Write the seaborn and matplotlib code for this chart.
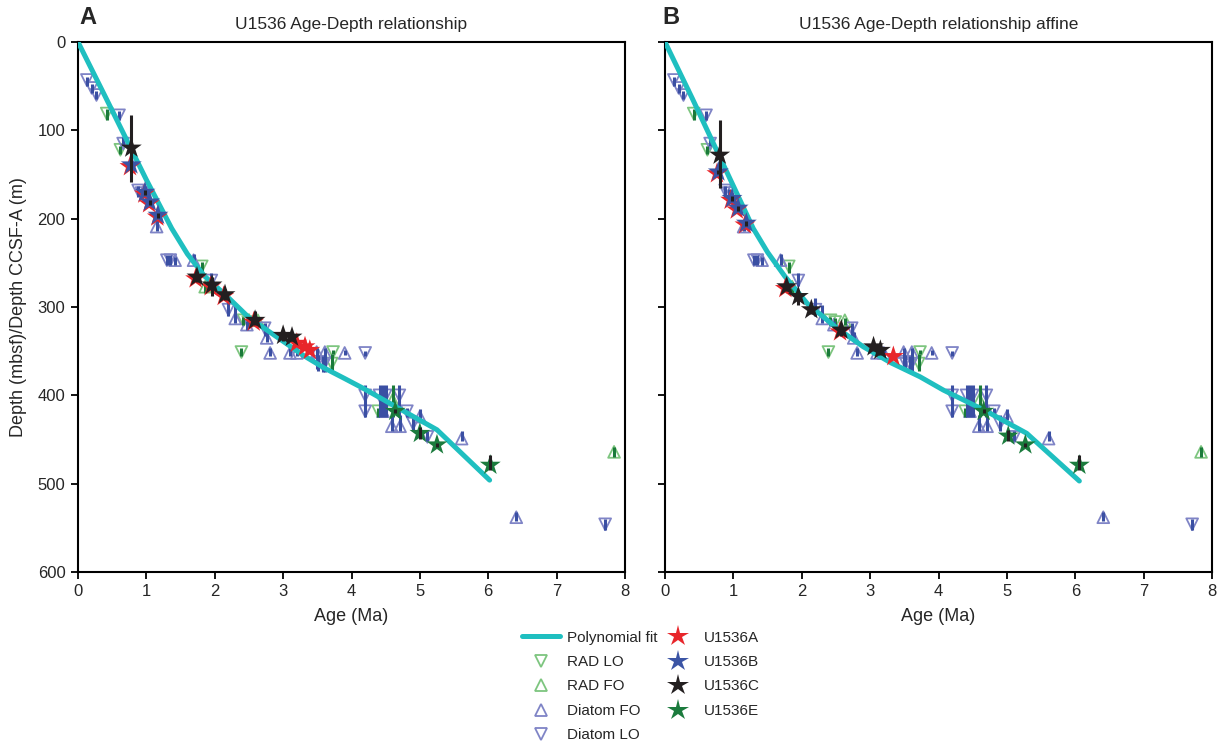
import numpy as np
import matplotlib
matplotlib.use("Agg")
import matplotlib.pyplot as plt
import seaborn as sns
from matplotlib.lines import Line2D

# ---------------- data ----------------
# Polynomial fits (age Ma, depth m)
fit_a_age = [0, 0.40, 1.00, 1.37, 1.60, 1.85, 2.18, 2.50, 2.91, 3.30, 3.60, 3.90, 4.17, 4.56, 5.25, 6.02]
fit_a_depth = [0, 62, 156, 211, 240, 265, 288, 312, 334, 355, 369, 381, 392, 409, 439, 496]
fit_b_age = [0, 0.40, 1.00, 1.29, 1.50, 1.75, 2.08, 2.50, 2.90, 3.30, 3.73, 4.07, 4.70, 5.29, 6.06]
fit_b_depth = [0, 64, 163, 211, 238, 265, 296, 323, 345, 363, 379, 394, 418, 443, 497]

# Radiolarian last occurrences
rad_lo_age = [0.42, 0.62, 1.81, 2.42, 2.49, 2.39, 3.73, 3.71, 4.39]
rad_lo_depth = [81, 122, 254, 315, 317, 351, 351, 364, 418]
rad_lo_top = [76, 118, 249, 311, 312, 346, 349, 353, 414]
rad_lo_bot = [88, 127, 262, 320, 323, 356, 353, 373, 424]

# Radiolarian first occurrences
rad_fo_age = [1.86, 2.63, 4.60, 7.84]
rad_fo_depth = [277, 315, 405, 464]
rad_fo_top = [272, 312, 388, 459]
rad_fo_bot = [284, 320, 425, 470]

# Diatom first occurrences
dia_fo_age = [1.15, 1.42, 1.69, 2.30, 2.47, 2.76, 2.81, 3.10, 3.20, 3.49, 3.61, 3.90,
              4.46, 4.59, 4.71, 5.00, 5.61, 6.41]
dia_fo_depth = [209, 247, 247, 313, 320, 335, 352, 352, 352, 351, 351, 352,
                418, 435, 435, 424, 449, 538]
dia_fo_top = [202, 243, 240, 298, 316, 328, 346, 346, 346, 346, 346, 349,
              388, 422, 422, 416, 440, 532]
dia_fo_bot = [214, 252, 252, 318, 326, 340, 356, 356, 356, 370, 374, 354,
              425, 440, 440, 428, 452, 542]

# Diatom last occurrences
dia_lo_age = [0.13, 0.20, 0.27, 0.60, 0.66, 0.88, 0.93, 1.30, 1.35, 1.95, 2.20, 2.73,
              3.51, 3.59, 4.20, 4.20, 4.41, 4.50, 4.70, 4.81, 4.90, 5.11, 4.20, 7.71]
dia_lo_depth = [43, 52, 60, 83, 115, 168, 171, 247, 247, 270, 303, 324,
                362, 366, 400, 418, 400, 400, 400, 418, 432, 447, 352, 546]
dia_lo_top = [40, 48, 56, 78, 108, 163, 166, 241, 241, 262, 290, 318,
              354, 356, 388, 414, 388, 388, 388, 414, 422, 440, 350, 540]
dia_lo_bot = [50, 58, 65, 88, 118, 176, 178, 252, 252, 276, 310, 333,
              372, 374, 425, 422, 425, 425, 425, 424, 440, 452, 355, 552]

# Paleomagnetic tie points, panel A
a_u1536a_age = [0.76, 0.97, 1.04, 1.16, 1.72, 1.94, 2.13, 2.57, 3.20, 3.32, 3.39]
a_u1536a_depth = [141, 172, 183, 198, 268, 277, 288, 317, 341, 345, 349]
a_u1536b_age = [0.78, 0.98, 1.05, 1.17]
a_u1536b_depth = [139, 170, 181, 196]
a_u1536b_top = [137, 167, 179, 194]
a_u1536b_bot = [141, 173, 184, 199]
a_u1536c_age = [0.78, 1.74, 1.96, 2.15, 2.59, 3.00, 3.13]
a_u1536c_depth = [120, 266, 275, 286, 315, 332, 334]
a_u1536c_top = [83, 262, 266, 280, 305, 328, 330]
a_u1536c_bot = [158, 272, 287, 292, 320, 338, 338]
a_u1536e_age = [4.64, 5.00, 5.25, 6.03]
a_u1536e_depth = [418, 443, 456, 479]
a_u1536e_top = [416, 436, 454, 467]
a_u1536e_bot = [420, 449, 458, 484]

# Paleomagnetic tie points, panel B (affine)
b_u1536a_age = [0.76, 0.96, 1.05, 1.17, 1.76, 2.56, 3.34]
b_u1536a_depth = [149, 179, 190, 207, 279, 328, 356]
b_u1536b_age = [0.78, 0.98, 1.07, 1.19]
b_u1536b_depth = [147, 177, 188, 205]
b_u1536b_top = [145, 174, 186, 203]
b_u1536b_bot = [149, 180, 191, 208]
b_u1536c_age = [0.80, 1.78, 1.95, 2.14, 2.58, 3.05, 3.15]
b_u1536c_depth = [128, 277, 288, 303, 326, 345, 349]
b_u1536c_top = [88, 273, 281, 298, 320, 341, 345]
b_u1536c_bot = [165, 282, 298, 308, 333, 350, 354]
b_u1536e_age = [4.66, 5.02, 5.27, 6.06]
b_u1536e_depth = [418, 446, 456, 479]
b_u1536e_top = [416, 439, 454, 467]
b_u1536e_bot = [420, 452, 458, 484]

x_ticks = [0, 1, 2, 3, 4, 5, 6, 7, 8]
y_ticks = [0, 100, 200, 300, 400, 500, 600]

# ---------------- style ----------------
sns.set_theme(style="white")
plt.rcParams['font.family'] = ['Liberation Sans', 'DejaVu Sans']

C_FIT = "#1fbfc0"
C_RAD = "#7dc57f"
C_RAD_BAR = "#1a7a3a"
C_DIA = "#7f84c6"
C_DIA_BAR = "#3a4fa3"
C_A = "#e8262b"
C_B = "#3b54a5"
C_C = "#231f20"
C_E = "#1b7b3d"

W, H = 1225, 749
fig = plt.figure(figsize=(W / 100, H / 100), dpi=100)
axA = fig.add_axes([78 / W, 1 - 572 / H, 547 / W, 530 / H])
axB = fig.add_axes([665 / W, 1 - 572 / H, 547 / W, 530 / H])

TRI_S = 72
STAR_S = 250


def tri(ax, age, depth, top, bot, marker, col, barcol):
    sns.scatterplot(x=age, y=depth, marker=marker, s=TRI_S, facecolor="none",
                    edgecolor=col, linewidth=1.3, ax=ax, zorder=2, legend=False)
    ax.vlines(age, top, bot, colors=barcol, linewidth=2.2, zorder=3)


def stars(ax, age, depth, col, top=None, bot=None):
    sns.scatterplot(x=age, y=depth, marker="*", s=STAR_S, color=col,
                    edgecolor="none", linewidth=0, ax=ax, zorder=5, legend=False)
    if top is not None:
        ax.vlines(age, top, bot, colors=C_C, linewidth=2.2, zorder=6)


def panel(ax, fit_age, fit_depth, sa, sb, sc, se, title, show_ylab):
    tri(ax, rad_lo_age, rad_lo_depth, rad_lo_top, rad_lo_bot, "v", C_RAD, C_RAD_BAR)
    tri(ax, rad_fo_age, rad_fo_depth, rad_fo_top, rad_fo_bot, "^", C_RAD, C_RAD_BAR)
    tri(ax, dia_fo_age, dia_fo_depth, dia_fo_top, dia_fo_bot, "^", C_DIA, C_DIA_BAR)
    tri(ax, dia_lo_age, dia_lo_depth, dia_lo_top, dia_lo_bot, "v", C_DIA, C_DIA_BAR)
    sns.lineplot(x=fit_age, y=fit_depth, color=C_FIT, linewidth=3.6, ax=ax,
                 zorder=4, sort=False, estimator=None)
    stars(ax, sa[0], sa[1], C_A)
    stars(ax, sb[0], sb[1], C_B, sb[2], sb[3])
    stars(ax, sc[0], sc[1], C_C, sc[2], sc[3])
    stars(ax, se[0], se[1], C_E, se[2], se[3])

    ax.set_xlim(0, 8)
    ax.set_ylim(600, 0)
    ax.set_xticks(x_ticks)
    ax.set_yticks(y_ticks)
    ax.tick_params(axis="both", direction="out", length=5, width=1.3,
                   color="black", labelsize=12, bottom=True, left=True,
                   labelleft=show_ylab, pad=4)
    for sp in ax.spines.values():
        sp.set_color("black")
        sp.set_linewidth(1.5)
    ax.set_xlabel("Age (Ma)", fontsize=13, labelpad=6)
    if show_ylab:
        ax.set_ylabel("Depth (mbsf)/Depth CCSF-A (m)", fontsize=13, labelpad=8)
    else:
        ax.set_ylabel("")
    ax.set_title(title, fontsize=12.5, pad=9)


panel(axA, fit_a_age, fit_a_depth,
      (a_u1536a_age, a_u1536a_depth),
      (a_u1536b_age, a_u1536b_depth, a_u1536b_top, a_u1536b_bot),
      (a_u1536c_age, a_u1536c_depth, a_u1536c_top, a_u1536c_bot),
      (a_u1536e_age, a_u1536e_depth, a_u1536e_top, a_u1536e_bot),
      "U1536 Age-Depth relationship", True)
panel(axB, fit_b_age, fit_b_depth,
      (b_u1536a_age, b_u1536a_depth),
      (b_u1536b_age, b_u1536b_depth, b_u1536b_top, b_u1536b_bot),
      (b_u1536c_age, b_u1536c_depth, b_u1536c_top, b_u1536c_bot),
      (b_u1536e_age, b_u1536e_depth, b_u1536e_top, b_u1536e_bot),
      "U1536 Age-Depth relationship affine", False)

fig.text(79 / W, 1 - 17 / H, "A", fontsize=17, fontweight="bold", va="center", ha="left")
fig.text(662 / W, 1 - 17 / H, "B", fontsize=17, fontweight="bold", va="center", ha="left")

handles = [
    Line2D([], [], color=C_FIT, linewidth=3.6),
    Line2D([], [], marker="v", linestyle="none", markersize=8, markerfacecolor="none",
           markeredgecolor=C_RAD, markeredgewidth=1.3),
    Line2D([], [], marker="^", linestyle="none", markersize=8, markerfacecolor="none",
           markeredgecolor=C_RAD, markeredgewidth=1.3),
    Line2D([], [], marker="^", linestyle="none", markersize=8, markerfacecolor="none",
           markeredgecolor=C_DIA, markeredgewidth=1.3),
    Line2D([], [], marker="v", linestyle="none", markersize=8, markerfacecolor="none",
           markeredgecolor=C_DIA, markeredgewidth=1.3),
    Line2D([], [], marker="*", linestyle="none", markersize=16, color=C_A, markeredgewidth=0),
    Line2D([], [], marker="*", linestyle="none", markersize=16, color=C_B, markeredgewidth=0),
    Line2D([], [], marker="*", linestyle="none", markersize=16, color=C_C, markeredgewidth=0),
    Line2D([], [], marker="*", linestyle="none", markersize=16, color=C_E, markeredgewidth=0),
]
labels = ["Polynomial fit", "RAD LO", "RAD FO", "Diatom FO", "Diatom LO",
          "U1536A", "U1536B", "U1536C", "U1536E"]
fig.legend(handles, labels, ncol=2, loc="upper center",
           bbox_to_anchor=(641 / W, 1 - 620 / H), frameon=False, fontsize=11,
           handlelength=2.5, handletextpad=0.45, columnspacing=0.1,
           labelspacing=0.68, borderpad=0.2)

fig.savefig("out.png", dpi=100)
